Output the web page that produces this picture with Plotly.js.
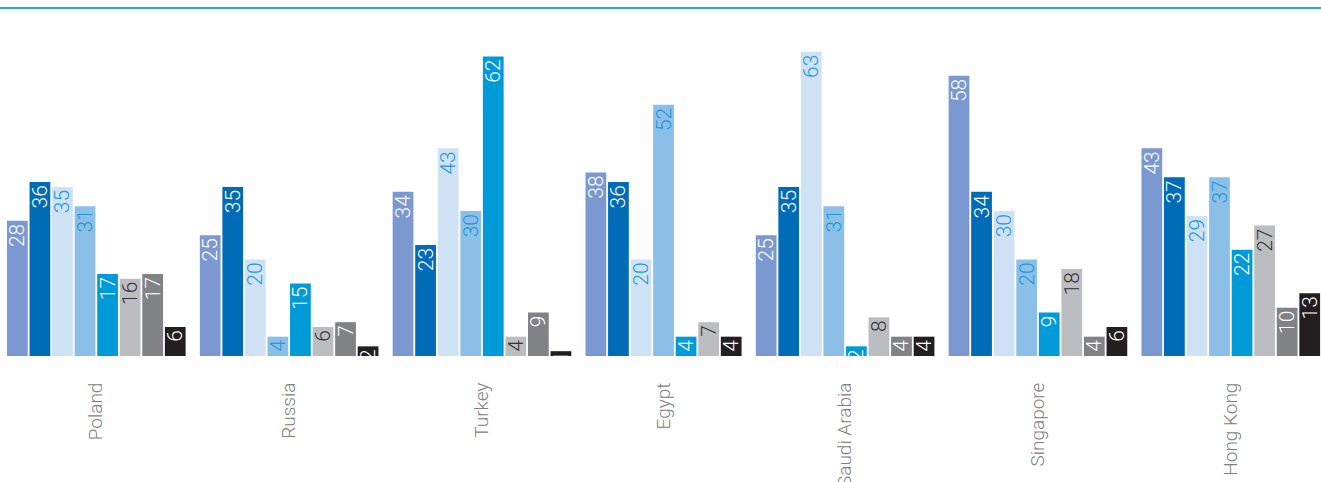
<!DOCTYPE html>
<html>
<head>
<meta charset="utf-8">
<script src="https://cdn.plot.ly/plotly-3.0.1.min.js"></script>
<style>html,body{margin:0;padding:0;background:#fff}#chart{width:1321px;height:482px}</style>
</head>
<body>
<div id="chart"></div>
<script>
const countries = ["Poland", "Russia", "Turkey", "Egypt", "Saudi Arabia", "Singapore", "Hong Kong"];
const series1 = [28, 25, 34, 38, 25, 58, 43];
const series2 = [36, 35, 23, 36, 35, 34, 37];
const series3 = [35, 20, 43, 20, 63, 30, 29];
const series4 = [31, 4, 30, 52, 31, 20, 37];
const series5 = [17, 15, 62, 4, 2, 9, 22];
const series6 = [16, 6, 4, 7, 8, 18, 27];
const series7 = [17, 7, 9, null, 4, 4, 10];
const series8 = [6, 2, 1, 4, 4, 6, 13];

const allSeries = [series1, series2, series3, series4, series5, series6, series7, series8];
const barColors = ["#7b99d0", "#006bb6", "#cfe2f5", "#8bbfe8", "#009ad9", "#bcbdc0", "#818285", "#231f20"];
const textColors = ["#ffffff", "#ffffff", "#1b9ad7", "#1b9ad7", "#ffffff", "#333333", "#ffffff", "#ffffff"];

const GAP = 0.55;
const positions = allSeries.map(() => []);
const centers = [];
let cursor = 0;
countries.forEach((c, ci) => {
  const start = cursor;
  allSeries.forEach((s, si) => {
    if (s[ci] !== null && s[ci] !== undefined) {
      positions[si][ci] = cursor;
      cursor += 1;
    } else {
      positions[si][ci] = null;
    }
  });
  centers.push((start + cursor - 1) / 2);
  cursor += GAP;
});
const lastPos = cursor - GAP - 1;

const FONT = "Roboto, Liberation Sans, Arial, sans-serif";

const traces = allSeries.map((s, si) => {
  const xs = [], ys = [], ts = [];
  s.forEach((v, ci) => {
    if (v !== null && v !== undefined) {
      xs.push(positions[si][ci]);
      ys.push(v);
      ts.push(String(v));
    }
  });
  return {
    type: "bar",
    x: xs,
    y: ys,
    text: ts,
    width: 0.92,
    textposition: "inside",
    insidetextanchor: "end",
    textangle: -90,
    constraintext: "none",
    insidetextfont: {family: FONT, size: 21, weight: 300, color: textColors[si]},
    marker: {color: barColors[si], line: {width: 0}},
    hoverinfo: "skip",
    showlegend: false
  };
});

const layout = {
  width: 1321,
  height: 482,
  margin: {l: 0, r: 0, t: 42, b: 126},
  paper_bgcolor: "#ffffff",
  plot_bgcolor: "#ffffff",
  barmode: "overlay",
  showlegend: false,
  xaxis: {
    range: [-0.77, lastPos + 0.5],
    tickmode: "array",
    tickvals: centers,
    ticktext: countries,
    tickangle: -90,
    ticks: "outside",
    ticklen: 18,
    tickcolor: "rgba(0,0,0,0)",
    tickfont: {family: FONT, size: 19, weight: 300, color: "#808080"},
    showgrid: false,
    zeroline: false,
    showline: false,
    fixedrange: true
  },
  yaxis: {
    range: [0, 65],
    visible: false,
    showgrid: false,
    zeroline: false,
    fixedrange: true
  },
  shapes: [{
    type: "line", xref: "paper", yref: "paper",
    x0: 0, x1: 1, y0: 1.108, y1: 1.108,
    line: {color: "#2aa7df", width: 2}
  }]
};

Plotly.newPlot("chart", traces, layout, {displayModeBar: false, staticPlot: true});
</script>
</body>
</html>
